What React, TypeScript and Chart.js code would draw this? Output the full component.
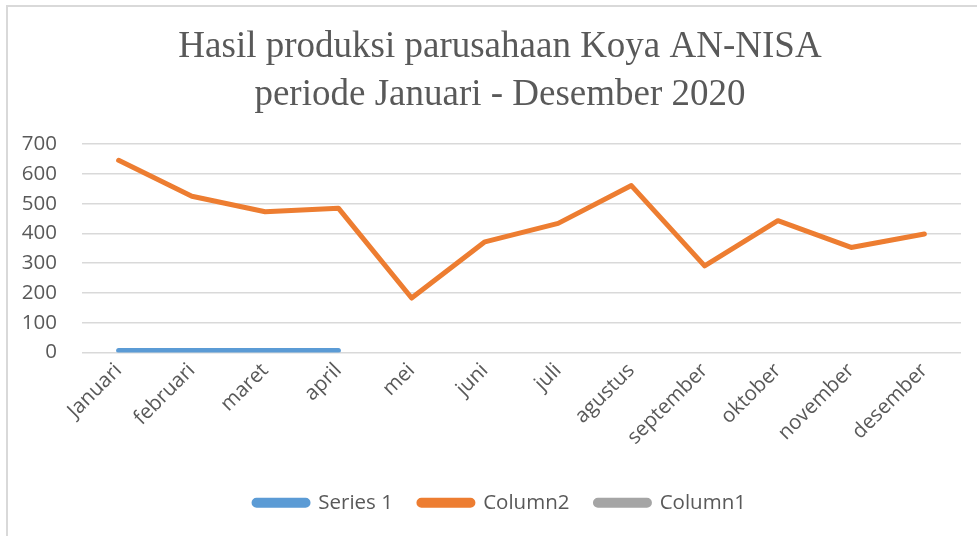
import React, { useEffect, useRef } from "react";
import { Chart, registerables } from "chart.js";

Chart.register(...registerables);

const categories = [
  "Januari", "februari", "maret", "april", "mei", "juni",
  "juli", "agustus", "september", "oktober", "november", "desember",
];
const series1 = [7, 7, 7, 7, null, null, null, null, null, null, null, null];
const column2 = [646, 525, 473, 485, 183, 372, 434, 561, 291, 443, 353, 398];
const column1: (number | null)[] = [];
const yTicks = [0, 100, 200, 300, 400, 500, 600, 700];

const titleLines = ["Hasil produksi parusahaan Koya AN-NISA", "periode Januari - Desember 2020"];

const unclipYLabels = {
  id: "unclipYLabels",
  afterLayout(chart: any) {
    const y = chart.scales.y;
    if (y) y.left = 0;
  },
};

export default function App() {
  const ref = useRef<HTMLCanvasElement | null>(null);
  useEffect(() => {
    if (!ref.current) return;
    const textColor = "#595959";
    const sans = "'Open Sans', sans-serif";
    const chart = new Chart(ref.current, {
      type: "line",
      data: {
        labels: categories,
        datasets: [
          {
            label: "Series 1",
            data: series1,
            borderColor: "#5B9BD5",
            backgroundColor: "#5B9BD5",
            borderWidth: 5,
            pointRadius: 0,
            borderCapStyle: "round",
            borderJoinStyle: "round",
            spanGaps: false,
          },
          {
            label: "Column2",
            data: column2,
            borderColor: "#ED7D31",
            backgroundColor: "#ED7D31",
            borderWidth: 5,
            pointRadius: 0,
            borderCapStyle: "round",
            borderJoinStyle: "round",
          },
          {
            label: "Column1",
            data: column1,
            borderColor: "#A5A5A5",
            backgroundColor: "#A5A5A5",
            borderWidth: 5,
            pointRadius: 0,
          },
        ],
      },
      plugins: [unclipYLabels],
      options: {
        animation: false,
        responsive: false,
        maintainAspectRatio: false,
        layout: { padding: { left: 39, right: 16, top: 0, bottom: 13 } },
        plugins: {
          title: {
            display: true,
            text: titleLines,
            color: textColor,
            font: { family: "'Liberation Serif', serif", size: 37, weight: "normal", lineHeight: 1.3 },
            padding: { top: 23, bottom: 25 },
          },
          legend: {
            display: true,
            position: "bottom",
            labels: {
              color: textColor,
              font: { family: sans, size: 20.5 },
              boxWidth: 54,
              boxHeight: 5,
              padding: 26,
              useBorderRadius: true,
              borderRadius: 2.5,
            },
          },
          tooltip: { enabled: false },
        },
        scales: {
          x: {
            type: "category",
            offset: true,
            grid: { display: false, drawTicks: false },
            border: { display: false },
            ticks: {
              color: textColor,
              font: { family: sans, size: 20.5 },
              minRotation: 45,
              maxRotation: 45,
              padding: 6,
              autoSkip: false,
            },
            afterFit: (scale: any) => {
              scale.height = 114;
            },
          },
          y: {
            min: 0,
            max: 700,
            afterBuildTicks: (scale: any) => {
              scale.ticks = yTicks.map((v) => ({ value: v }));
            },
            grid: { color: "#d9d9d9", lineWidth: 1.5, drawTicks: false },
            border: { display: false },
            ticks: {
              color: textColor,
              font: { family: sans, size: 20.5 },
              padding: 25,
            },
            afterFit: (scale: any) => {
              scale.width = 43;
            },
          },
        },
      },
    });
    return () => chart.destroy();
  }, []);

  return (
    <div style={{ position: "fixed", left: 0, top: 0, width: 977, height: 536, background: "#fff" }}>
      <div
        style={{
          position: "absolute",
          left: 6,
          top: 5,
          right: 0,
          bottom: 0,
          borderTop: "2px solid #d9d9d9",
          borderLeft: "2px solid #d9d9d9",
        }}
      />
      <canvas ref={ref} width={977} height={536} style={{ position: "absolute", left: 0, top: 0 }} />
    </div>
  );
}
